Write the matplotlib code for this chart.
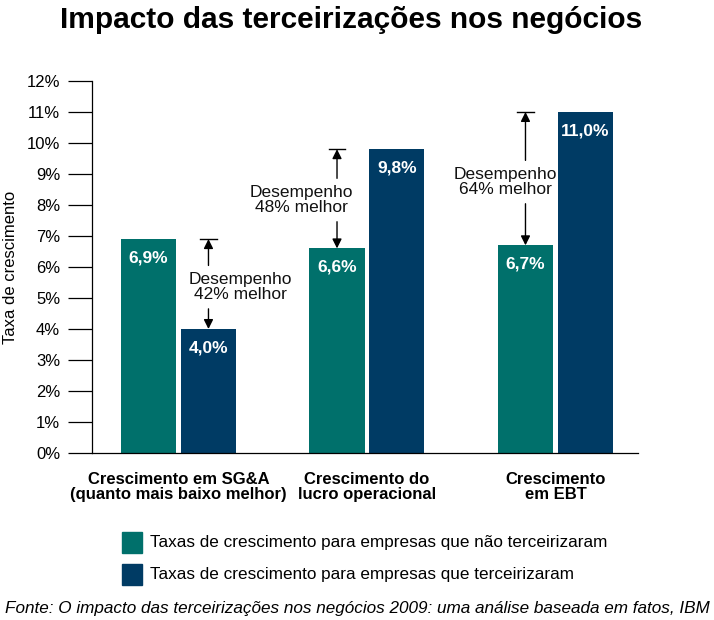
import matplotlib
matplotlib.use("Agg")
import matplotlib.pyplot as plt
from matplotlib.patches import Rectangle

plt.rcParams['font.family'] = ['Liberation Sans', 'DejaVu Sans']

categories = ["Crescimento em SG&A\n(quanto mais baixo melhor)",
              "Crescimento do\nlucro operacional",
              "Crescimento\nem EBT"]
nao_terceirizaram = [6.9, 6.6, 6.7]
terceirizaram = [4.0, 9.8, 11.0]
value_labels_nao = ["6,9%", "6,6%", "6,7%"]
value_labels_ter = ["4,0%", "9,8%", "11,0%"]
annotations = ["Desempenho\n42% melhor", "Desempenho\n48% melhor", "Desempenho\n64% melhor"]
yticks = list(range(0, 13))
ytick_labels = [f"{v}%" for v in yticks]
legend_labels = ["Taxas de crescimento para empresas que não terceirizaram",
                 "Taxas de crescimento para empresas que terceirizaram"]

TEAL = "#00706B"
NAVY = "#003B64"

fig = plt.figure(figsize=(7.14, 6.2), dpi=100)
ax = fig.add_axes([92/714, 1-453/620, (638-92)/714, (453-81)/620])

w = 0.292
off = 0.159
xs = list(range(len(categories)))
ax.bar([x - off for x in xs], nao_terceirizaram, width=w, color=TEAL, zorder=2)
ax.bar([x + off for x in xs], terceirizaram, width=w, color=NAVY, zorder=2)

for x, v, lab in zip(xs, nao_terceirizaram, value_labels_nao):
    ax.text(x - off, v - 0.6, lab, ha='center', va='center', color='white',
            fontsize=12.5, fontweight='bold')
for x, v, lab in zip(xs, terceirizaram, value_labels_ter):
    ax.text(x + off, v - 0.6, lab, ha='center', va='center', color='white',
            fontsize=12.5, fontweight='bold')

# annotation arrows: (arrow x offset, text x offset, text y centre)
ann_layout = [(off, 0.327, 5.35), (-off, -0.347, 8.16), (-off, -0.268, 8.74)]
for i, (ax_off, tx_off, ty) in enumerate(ann_layout):
    hi = max(nao_terceirizaram[i], terceirizaram[i])
    lo = min(nao_terceirizaram[i], terceirizaram[i])
    ax_x = i + ax_off
    ax.text(i + tx_off, ty, annotations[i], ha='center', va='center',
            fontsize=12.5, linespacing=1.0, color='#111111')
    ax.annotate('', xy=(ax_x, hi), xytext=(ax_x, ty + 0.7),
                arrowprops=dict(arrowstyle='-|>', color='black', lw=1,
                                mutation_scale=14, shrinkA=0, shrinkB=0))
    ax.annotate('', xy=(ax_x, lo), xytext=(ax_x, ty - 0.7),
                arrowprops=dict(arrowstyle='-|>', color='black', lw=1,
                                mutation_scale=14, shrinkA=0, shrinkB=0))
    ax.plot([ax_x - 0.045, ax_x + 0.045], [hi, hi], color='black', lw=1)

ax.set_xlim(-0.459, 2.438)
ax.set_ylim(0, 12)
ax.set_yticks(yticks)
ax.set_yticklabels(ytick_labels, fontsize=12)
ax.tick_params(axis='y', direction='out', length=17, width=0.9, pad=6)
ax.set_xticks(xs)
ax.set_xticklabels(categories, fontsize=12, fontweight='bold', linespacing=1.0)
ax.tick_params(axis='x', length=0, pad=14)
for s in ['top', 'right']:
    ax.spines[s].set_visible(False)
ax.spines['left'].set_linewidth(0.9)
ax.spines['bottom'].set_linewidth(0.9)
ax.set_ylabel("Taxa de crescimento", fontsize=12, labelpad=6)

fig.text(351/714, 1-20/620, "Impacto das terceirizações nos negócios",
         ha='center', va='center', fontsize=21.5, fontweight='bold')

for j, (col, lab) in enumerate(zip([TEAL, NAVY], legend_labels)):
    yc = 542 + 32*j
    fig.patches.append(Rectangle((122/714, 1-(yc+10.5)/620), 20/714, 21/620,
                                 transform=fig.transFigure, color=col))
    fig.text(150/714, 1-yc/620, lab, ha='left', va='center', fontsize=12.3)

fig.text(5/714, 1-608/620,
         "Fonte: O impacto das terceirizações nos negócios 2009: uma análise baseada em fatos, IBM",
         ha='left', va='center', fontsize=12.3, style='italic')

fig.savefig("out.png", dpi=100)
